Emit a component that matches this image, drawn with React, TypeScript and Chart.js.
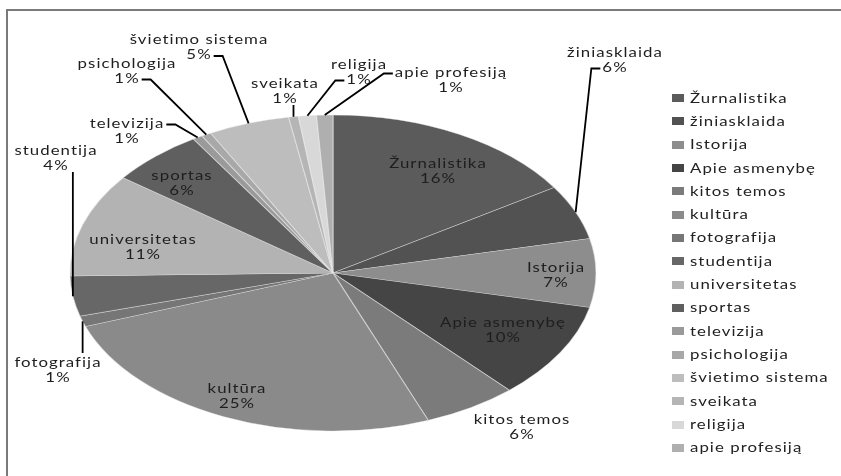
import { useEffect, useRef } from "react";
import { Chart, registerables } from "chart.js";

Chart.register(...registerables);

const categories = [
  "Žurnalistika",
  "žiniasklaida",
  "Istorija",
  "Apie asmenybę",
  "kitos temos",
  "kultūra",
  "fotografija",
  "studentija",
  "universitetas",
  "sportas",
  "televizija",
  "psichologija",
  "švietimo sistema",
  "sveikata",
  "religija",
  "apie profesiją",
];

const values = [15.9, 5.6, 7.0, 9.8, 5.8, 25.4, 1.1, 4.1, 10.6, 5.8, 0.6, 0.6, 5.0, 0.6, 1.1, 1.0];

const sliceColors = [
  "#5b5b5b",
  "#525252",
  "#8d8d8d",
  "#454545",
  "#7b7b7b",
  "#8a8a8a",
  "#767676",
  "#676767",
  "#b3b3b3",
  "#5f5f5f",
  "#9a9a9a",
  "#a8a8a8",
  "#bdbdbd",
  "#b5b5b5",
  "#d8d8d8",
  "#afafaf",
];

// label block centres (layout only)
const labelCenters: [number, number][] = [
  [438, 170.5],
  [615, 59.5],
  [556, 275],
  [503, 329.5],
  [522, 427],
  [237, 395.5],
  [58, 369.5],
  [56, 157.5],
  [143, 247],
  [182, 183],
  [127, 130.5],
  [127, 70.5],
  [199, 47],
  [285, 90.5],
  [359, 71.5],
  [451, 79.5],
];

const leaderKinds = [
  "inside",
  "left2",
  "inside",
  "inside",
  "none",
  "inside",
  "above",
  "below",
  "inside",
  "inside",
  "right1",
  "right2",
  "right2",
  "below",
  "left2",
  "left1",
];

const RATIO_X = 263 / 158;
const FONT = "14px Lato";
const TEXT_TARGET = 98; // width of "Žurnalistika" in reference
const STRETCH = 1.2;

export default function App() {
  const ref = useRef<HTMLCanvasElement | null>(null);

  useEffect(() => {
    document.body.style.margin = "0";
    const canvas = ref.current!;
    let sx = 1;
    let spacing = "0px";
    let useSpacing = false;

    const setFont = (ctx: CanvasRenderingContext2D) => {
      ctx.font = FONT;
      if (useSpacing) (ctx as any).letterSpacing = spacing;
    };

    const drawText = (ctx: CanvasRenderingContext2D, t: string, x: number, y: number, align: CanvasTextAlign) => {
      ctx.save();
      ctx.translate(x, y);
      ctx.scale(sx, 1);
      setFont(ctx);
      ctx.textAlign = align;
      ctx.textBaseline = "middle";
      ctx.fillText(t, 0, 0);
      ctx.restore();
    };

    const framePlugin = {
      id: "frame",
      beforeDraw(chart: any) {
        const ctx = chart.ctx as CanvasRenderingContext2D;
        ctx.save();
        ctx.fillStyle = "#ffffff";
        ctx.fillRect(0, 0, chart.width, chart.height);
        ctx.strokeStyle = "#7a7a7a";
        ctx.lineWidth = 2;
        ctx.beginPath();
        ctx.moveTo(chart.width, 10);
        ctx.lineTo(7, 10);
        ctx.lineTo(7, chart.height);
        ctx.stroke();
        ctx.restore();
        ctx.save();
        ctx.font = FONT;
        useSpacing = "letterSpacing" in ctx;
        if (useSpacing) (ctx as any).letterSpacing = "0px";
        const w = ctx.measureText("Žurnalistika").width;
        if (useSpacing) {
          sx = STRETCH;
          spacing = ((TEXT_TARGET / STRETCH - w) / 12).toFixed(2) + "px";
        } else {
          sx = TEXT_TARGET / w;
        }
        ctx.restore();
      },
    };

    const ellipsePlugin = {
      id: "ellipse",
      beforeDatasetsDraw(chart: any) {
        const ctx = chart.ctx as CanvasRenderingContext2D;
        const arc = chart.getDatasetMeta(0).data[0];
        ctx.save();
        ctx.translate(arc.x, arc.y);
        ctx.scale(RATIO_X, 1);
        ctx.translate(-arc.x, -arc.y);
      },
      afterDatasetsDraw(chart: any) {
        chart.ctx.restore();
      },
    };

    const labelPlugin = {
      id: "labels",
      afterDraw(chart: any) {
        const ctx = chart.ctx as CanvasRenderingContext2D;
        const meta = chart.getDatasetMeta(0);
        const total = values.reduce((a, b) => a + b, 0);
        ctx.save();
        setFont(ctx);
        const tw = (t: string) => ctx.measureText(t).width * sx;
        meta.data.forEach((arc: any, i: number) => {
          const mid = (arc.startAngle + arc.endAngle) / 2;
          const ry = arc.outerRadius;
          const rx = ry * RATIO_X;
          const ax = arc.x + rx * Math.cos(mid);
          const ay = arc.y + ry * Math.sin(mid);
          const [cx, cy] = labelCenters[i];
          const l1 = cy - 7.5;
          const l2 = cy + 7.5;
          const cat = categories[i];
          const pct = Math.round((values[i] / total) * 100) + "%";
          ctx.fillStyle = "#1e1e1e";
          drawText(ctx, cat, cx, l1, "center");
          drawText(ctx, pct, cx, l2, "center");
          const kind = leaderKinds[i];
          ctx.strokeStyle = "#000000";
          ctx.lineWidth = 1.8;
          ctx.beginPath();
          if (kind === "left1" || kind === "left2") {
            const t = kind === "left1" ? cat : pct;
            const ly = (kind === "left1" ? l1 : l2) + 1.5;
            const x0 = cx - tw(t) / 2 - 2;
            ctx.moveTo(x0, ly);
            ctx.lineTo(x0 - 9, ly);
            ctx.lineTo(ax, ay);
            ctx.stroke();
          } else if (kind === "right1" || kind === "right2") {
            const t = kind === "right1" ? cat : pct;
            const ly = (kind === "right1" ? l1 : l2) + 1.5;
            const x0 = cx + tw(t) / 2 + 2;
            ctx.moveTo(x0, ly);
            ctx.lineTo(x0 + 9, ly);
            ctx.lineTo(ax, ay);
            ctx.stroke();
          } else if (kind === "below") {
            ctx.moveTo(ax, l2 + 7);
            ctx.lineTo(ax, ay);
            ctx.stroke();
          } else if (kind === "above") {
            ctx.moveTo(ax, ay);
            ctx.lineTo(ax, l1 - 9);
            ctx.stroke();
          }
        });
        // legend
        const rowTop = 98;
        const rowStep = 23.33;
        categories.forEach((c, i) => {
          const y = rowTop + i * rowStep;
          ctx.fillStyle = sliceColors[i];
          ctx.fillRect(672, Math.round(y - 4), 12, 8);
          ctx.fillStyle = "#222222";
          drawText(ctx, c, 690, y, "left");
        });
        ctx.restore();
      },
    };

    const chart = new Chart(canvas, {
      type: "pie",
      data: {
        labels: categories,
        datasets: [
          {
            data: values,
            backgroundColor: sliceColors,
            borderColor: "rgba(235,235,235,0.55)",
            borderWidth: 0.7,
            clip: false,
          } as any,
        ],
      },
      options: {
        responsive: false,
        animation: false,
        devicePixelRatio: 1,
        radius: 158,
        layout: { padding: { left: 175, right: 350, top: 115, bottom: 45 } },
        plugins: {
          legend: { display: false },
          tooltip: { enabled: false },
        },
      } as any,
      plugins: [framePlugin, ellipsePlugin, labelPlugin],
    });

    return () => chart.destroy();
  }, []);

  return (
    <div style={{ position: "absolute", left: 0, top: 0, width: 841, height: 476, background: "#fff" }}>
      <canvas ref={ref} width={841} height={476} style={{ width: 841, height: 476, display: "block" }} />
    </div>
  );
}
